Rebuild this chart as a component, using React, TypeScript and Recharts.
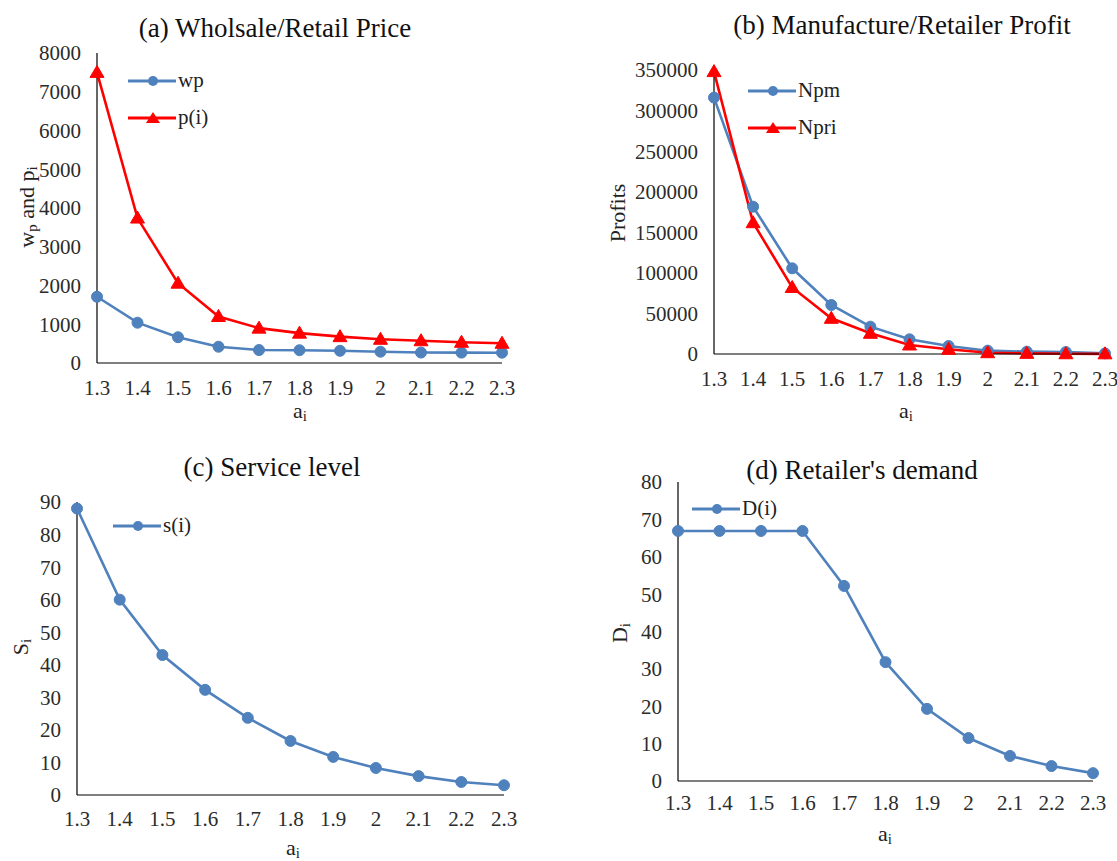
import React from 'react';
import { LineChart, Line, XAxis, YAxis, Legend } from 'recharts';

// ---------- data ----------
const aValues = ['1.3', '1.4', '1.5', '1.6', '1.7', '1.8', '1.9', '2', '2.1', '2.2', '2.3'];

const wpValues = [1710, 1040, 665, 420, 335, 330, 315, 292, 270, 268, 266];
const pValues = [7500, 3740, 2060, 1200, 900, 770, 680, 612, 575, 535, 510];

const npmValues = [316000, 181500, 105600, 60400, 33700, 18100, 9900, 4100, 2900, 2400, 800];
const npriValues = [348000, 161800, 82000, 44000, 25500, 11100, 5800, 1600, 800, 300, 200];

const sValues = [88, 60, 43, 32.3, 23.7, 16.6, 11.7, 8.3, 5.8, 4, 3];
const dValues = [66.9, 66.9, 66.9, 66.9, 52.2, 31.8, 19.3, 11.5, 6.7, 4, 2.1];

const ticksA = [0, 1000, 2000, 3000, 4000, 5000, 6000, 7000, 8000];
const ticksB = [0, 50000, 100000, 150000, 200000, 250000, 300000, 350000];
const ticksC = [0, 10, 20, 30, 40, 50, 60, 70, 80, 90];
const ticksD = [0, 10, 20, 30, 40, 50, 60, 70, 80];

const dataA = aValues.map((a, i) => ({ a, wp: wpValues[i], p: pValues[i] }));
const dataB = aValues.map((a, i) => ({ a, npm: npmValues[i], npri: npriValues[i] }));
const dataC = aValues.map((a, i) => ({ a, s: sValues[i] }));
const dataD = aValues.map((a, i) => ({ a, d: dValues[i] }));

// ---------- style ----------
const FONT = "'Liberation Serif', 'Times New Roman', serif";
const SVG_FONT = 'Liberation Serif';
const BLUE = '#4F81BD';
const RED = '#FF0000';
const TICK_COLOR = '#2b2b2b';

type Marker = 'circle' | 'triangle';
type SeriesDef = { key: string; name: string; color: string; marker: Marker };

const makeDot = (color: string, marker: Marker) => (props: any) => {
  const { cx, cy, index } = props;
  if (cx == null || cy == null) return <g key={`d${index}`} />;
  if (marker === 'circle') {
    return <circle key={`d${index}`} cx={cx} cy={cy} r={5.5} fill={color} stroke={color} strokeWidth={1} />;
  }
  return (
    <path
      key={`d${index}`}
      d={`M${cx},${cy - 7} L${cx - 7},${cy + 5} L${cx + 7},${cy + 5} Z`}
      fill={color}
      stroke={color}
      strokeWidth={1}
    />
  );
};

const XTick = (props: any) => {
  const { x, y, payload } = props;
  return (
    <text
      x={x}
      y={y}
      dy="0.71em"
      textAnchor="middle"
      fill={TICK_COLOR}
      fontSize={21}
      fontFamily={SVG_FONT}
      style={{ fontFamily: FONT }}
    >
      {payload.value}
    </text>
  );
};

const YTick = (props: any) => {
  const { x, y, payload } = props;
  return (
    <text
      x={x}
      y={y}
      dy="0.355em"
      textAnchor="end"
      fill={TICK_COLOR}
      fontSize={21}
      fontFamily={SVG_FONT}
      style={{ fontFamily: FONT }}
    >
      {payload.value}
    </text>
  );
};

const LegendMarker = ({ s }: { s: SeriesDef }) => (
  <svg width={48} height={20} style={{ display: 'block' }}>
    <line x1={0} y1={10} x2={48} y2={10} stroke={s.color} strokeWidth={3} />
    {s.marker === 'circle' ? (
      <circle cx={25} cy={10} r={5} fill={s.color} />
    ) : (
      <path d="M25,4 L18,15 L32,15 Z" fill={s.color} />
    )}
  </svg>
);

const makeLegend = (series: SeriesDef[]) => () => (
  <div style={{ fontFamily: FONT, fontSize: 21, color: '#222' }}>
    {series.map((s) => (
      <div key={s.key} style={{ display: 'flex', alignItems: 'center', height: 37, whiteSpace: 'nowrap' }}>
        <LegendMarker s={s} />
        <span style={{ marginLeft: 2, lineHeight: 1 }}>{s.name}</span>
      </div>
    ))}
  </div>
);

type LabelPart = { t: string; sub?: boolean };

const renderParts = (parts: LabelPart[], size: number) =>
  parts.map((p, i) => {
    const prevSub = i > 0 && parts[i - 1].sub;
    const dy = p.sub ? size * 0.25 : prevSub ? -size * 0.25 : 0;
    return (
      <tspan key={i} dy={dy} fontSize={p.sub ? size * 0.68 : size}>
        {p.t}
      </tspan>
    );
  });

const makeYLabel = (parts: LabelPart[], x: number, y: number) => () => (
  <text
    x={x}
    y={y}
    transform={`rotate(-90, ${x}, ${y})`}
    textAnchor="middle"
    dominantBaseline="central"
    fontSize={22}
    fill="#222"
    fontFamily={SVG_FONT}
    style={{ fontFamily: FONT }}
  >
    {renderParts(parts, 22)}
  </text>
);

const makeXLabel = (parts: LabelPart[], x: number, y: number) => () => (
  <text
    x={x}
    y={y}
    textAnchor="middle"
    dominantBaseline="central"
    fontSize={22}
    fill="#222"
    fontFamily={SVG_FONT}
    style={{ fontFamily: FONT }}
  >
    {renderParts(parts, 22)}
  </text>
);

type PanelProps = {
  left: number;
  top: number;
  width: number;
  height: number;
  margin: { top: number; right: number; bottom: number; left: number };
  yWidth: number;
  data: any[];
  series: SeriesDef[];
  yTicks: number[];
  title: string;
  titleX: number;
  titleY: number;
  legendX: number;
  legendY: number;
  yLabel: LabelPart[];
  yLabelPos: [number, number];
  xLabelPos: [number, number];
  xTickMargin: number;
};

const Panel = (p: PanelProps) => {
  const yMax = p.yTicks[p.yTicks.length - 1];
  return (
    <div
      style={{
        position: 'absolute',
        left: p.left,
        top: p.top,
        width: p.width,
        height: p.height,
        fontFamily: FONT,
      }}
    >
      <LineChart width={p.width} height={p.height} data={p.data} margin={p.margin}>
        <XAxis
          dataKey="a"
          interval={0}
          axisLine={{ stroke: '#000', strokeWidth: 1.2 }}
          tickLine={false}
          tickSize={0}
          tickMargin={p.xTickMargin}
          height={40}
          tick={<XTick />}
          label={makeXLabel([{ t: 'a' }, { t: 'i', sub: true }], p.xLabelPos[0], p.xLabelPos[1])}
        />
        <YAxis
          width={p.yWidth}
          domain={[0, yMax]}
          ticks={p.yTicks}
          interval={0}
          axisLine={{ stroke: '#000', strokeWidth: 1.2 }}
          tickLine={false}
          tickSize={0}
          tickMargin={16}
          tick={<YTick />}
          label={makeYLabel(p.yLabel, p.yLabelPos[0], p.yLabelPos[1])}
        />
        <Legend
          layout="vertical"
          align="center"
          verticalAlign="middle"
          content={makeLegend(p.series)}
          wrapperStyle={{ left: p.legendX, top: p.legendY, width: 'auto', height: 'auto' }}
        />
        {p.series.map((s) => (
          <Line
            key={s.key}
            type="linear"
            dataKey={s.key}
            name={s.name}
            stroke={s.color}
            strokeWidth={2.6}
            dot={makeDot(s.color, s.marker)}
            activeDot={false}
            isAnimationActive={false}
          />
        ))}
      </LineChart>
      <div
        style={{
          position: 'absolute',
          left: p.titleX - 250,
          top: p.titleY - 14,
          width: 500,
          textAlign: 'center',
          fontFamily: FONT,
          fontSize: 27,
          lineHeight: '28px',
          color: '#111',
          whiteSpace: 'nowrap',
        }}
      >
        {p.title}
      </div>
    </div>
  );
};

export default function App() {
  return (
    <div
      style={{
        position: 'absolute',
        left: 0,
        top: 0,
        width: 1117,
        height: 861,
        background: '#fff',
        overflow: 'hidden',
        fontFamily: FONT,
      }}
    >
      <Panel
        left={0}
        top={0}
        width={560}
        height={432}
        margin={{ top: 53, right: 58, bottom: 29, left: 37 }}
        yWidth={60}
        data={dataA}
        series={[
          { key: 'wp', name: 'wp', color: BLUE, marker: 'circle' },
          { key: 'p', name: 'p(i)', color: RED, marker: 'triangle' },
        ]}
        yTicks={ticksA}
        title="(a) Wholsale/Retail Price"
        titleX={275}
        titleY={28}
        legendX={128}
        legendY={62}
        yLabel={[{ t: 'w' }, { t: 'p', sub: true }, { t: ' and p' }, { t: 'i', sub: true }]}
        yLabelPos={[26, 207]}
        xLabelPos={[300, 410]}
        xTickMargin={17}
      />
      <Panel
        left={560}
        top={0}
        width={557}
        height={432}
        margin={{ top: 70, right: 12, bottom: 38, left: 74 }}
        yWidth={80}
        data={dataB}
        series={[
          { key: 'npm', name: 'Npm', color: BLUE, marker: 'circle' },
          { key: 'npri', name: 'Npri', color: RED, marker: 'triangle' },
        ]}
        yTicks={ticksB}
        title="(b) Manufacture/Retailer Profit"
        titleX={342}
        titleY={25}
        legendX={188}
        legendY={72}
        yLabel={[{ t: 'Profits' }]}
        yLabelPos={[57, 213]}
        xLabelPos={[346, 410]}
        xTickMargin={17}
      />
      <Panel
        left={0}
        top={420}
        width={560}
        height={441}
        margin={{ top: 82, right: 56, bottom: 26, left: 27 }}
        yWidth={50}
        data={dataC}
        series={[{ key: 's', name: 's(i)', color: BLUE, marker: 'circle' }]}
        yTicks={ticksC}
        title="(c) Service level"
        titleX={272}
        titleY={47}
        legendX={113}
        legendY={87}
        yLabel={[{ t: 'S' }, { t: 'i', sub: true }]}
        yLabelPos={[20, 227]}
        xLabelPos={[293, 427]}
        xTickMargin={16}
      />
      <Panel
        left={560}
        top={420}
        width={557}
        height={441}
        margin={{ top: 62, right: 24, bottom: 40, left: 68 }}
        yWidth={50}
        data={dataD}
        series={[{ key: 'd', name: 'D(i)', color: BLUE, marker: 'circle' }]}
        yTicks={ticksD}
        title="(d) Retailer's demand"
        titleX={302}
        titleY={50}
        legendX={132}
        legendY={70}
        yLabel={[{ t: 'D' }, { t: 'i', sub: true }]}
        yLabelPos={[59, 213]}
        xLabelPos={[325, 413]}
        xTickMargin={14}
      />
    </div>
  );
}
